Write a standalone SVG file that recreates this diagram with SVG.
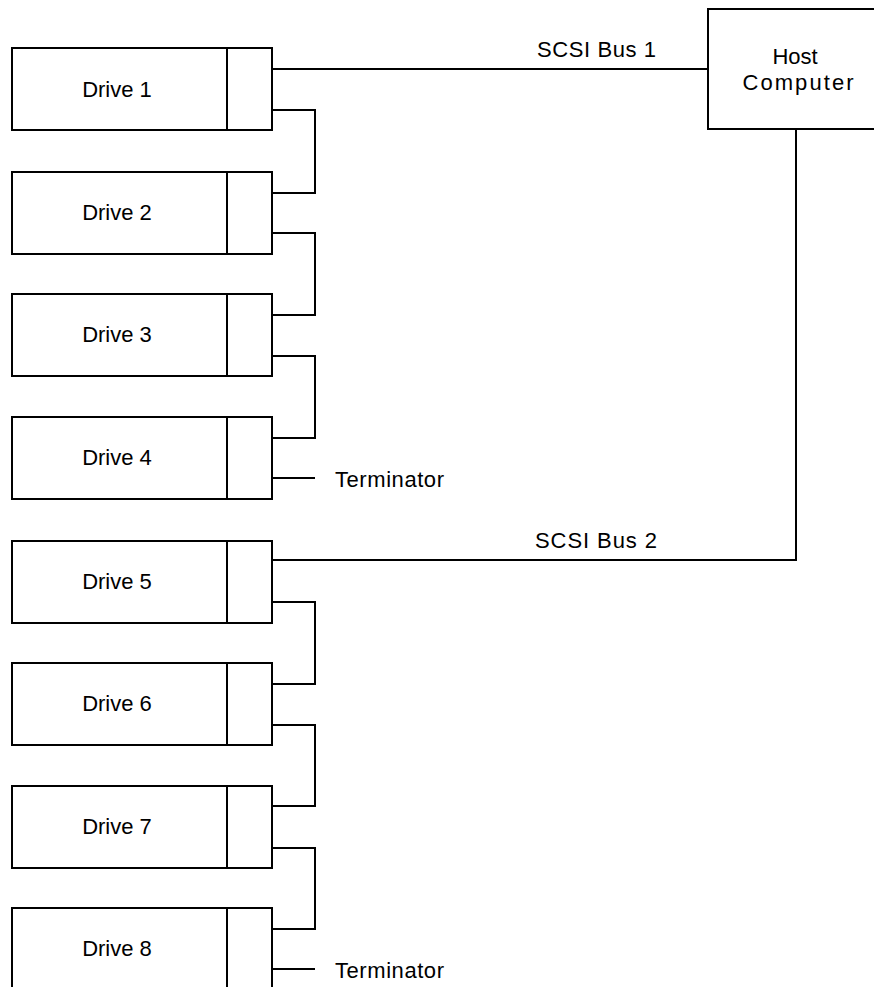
<svg xmlns="http://www.w3.org/2000/svg" width="874" height="987" viewBox="0 0 874 987">
<style>
.box{fill:#fff;stroke:#000;stroke-width:2}
.w{fill:none;stroke:#000;stroke-width:2}
text{font-family:"Liberation Sans",Arial,sans-serif;font-size:22px;fill:#000}
.c{text-anchor:middle}
</style>
<rect width="874" height="987" fill="#fff"/>
<g id="host">
<rect class="box" x="708" y="9" width="180" height="120"/>
<text class="c" x="795" y="64">Host</text>
<text class="c" x="798" y="90" textLength="111" lengthAdjust="spacing">Computer</text>
</g>
<g id="drive1"><rect class="box" x="12" y="48" width="260" height="82"/><line class="w" x1="227" y1="48" x2="227" y2="130"/><text class="c" x="117" y="97">Drive 1</text></g>
<g id="drive2"><rect class="box" x="12" y="172" width="260" height="82"/><line class="w" x1="227" y1="172" x2="227" y2="254"/><text class="c" x="117" y="220">Drive 2</text></g>
<g id="drive3"><rect class="box" x="12" y="294" width="260" height="82"/><line class="w" x1="227" y1="294" x2="227" y2="376"/><text class="c" x="117" y="342">Drive 3</text></g>
<g id="drive4"><rect class="box" x="12" y="417" width="260" height="82"/><line class="w" x1="227" y1="417" x2="227" y2="499"/><text class="c" x="117" y="465">Drive 4</text></g>
<g id="drive5"><rect class="box" x="12" y="541" width="260" height="82"/><line class="w" x1="227" y1="541" x2="227" y2="623"/><text class="c" x="117" y="589">Drive 5</text></g>
<g id="drive6"><rect class="box" x="12" y="663" width="260" height="82"/><line class="w" x1="227" y1="663" x2="227" y2="745"/><text class="c" x="117" y="711">Drive 6</text></g>
<g id="drive7"><rect class="box" x="12" y="786" width="260" height="82"/><line class="w" x1="227" y1="786" x2="227" y2="868"/><text class="c" x="117" y="834">Drive 7</text></g>
<g id="drive8"><rect class="box" x="12" y="908" width="260" height="82"/><line class="w" x1="227" y1="908" x2="227" y2="990"/><text class="c" x="117" y="956">Drive 8</text></g>
<g id="connectors">
<polyline class="w" points="272,69 708,69"/>
<polyline class="w" points="796,129 796,560 272,560"/>
<polyline class="w" points="272,110 315,110 315,193 272,193"/>
<polyline class="w" points="272,233 315,233 315,315 272,315"/>
<polyline class="w" points="272,356 315,356 315,438 272,438"/>
<polyline class="w" points="272,478 315,478"/>
<polyline class="w" points="272,602 315,602 315,684 272,684"/>
<polyline class="w" points="272,725 315,725 315,806 272,806"/>
<polyline class="w" points="272,848 315,848 315,929 272,929"/>
<polyline class="w" points="272,969 315,969"/>
</g>
<g id="labels">
<text x="537" y="57" textLength="119" lengthAdjust="spacing">SCSI Bus 1</text>
<text x="535" y="548" textLength="122" lengthAdjust="spacing">SCSI Bus 2</text>
<text x="335" y="487" textLength="109" lengthAdjust="spacing">Terminator</text>
<text x="335" y="978" textLength="109" lengthAdjust="spacing">Terminator</text>
</g>
</svg>
